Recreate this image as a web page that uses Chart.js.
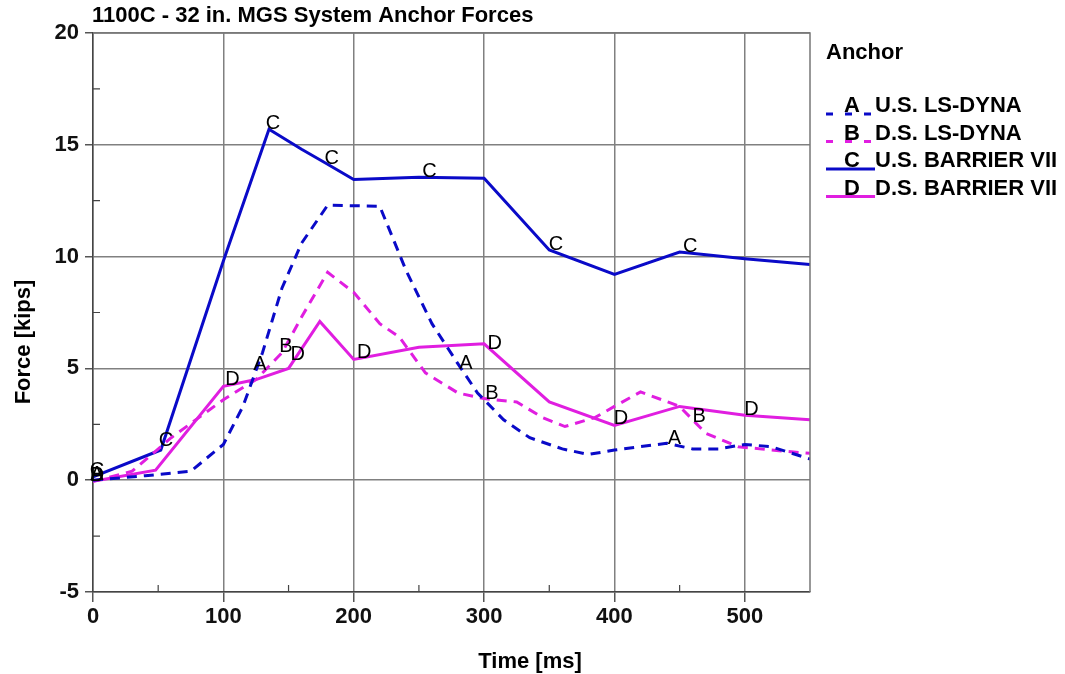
<!DOCTYPE html>
<html>
<head>
<meta charset="utf-8">
<script src="https://cdn.jsdelivr.net/npm/chart.js@4.4.0/dist/chart.umd.min.js"></script>
<style>
  body { margin: 0; background: #fff; }
  #anchor_forces { display: block; }
</style>
</head>
<body>
<canvas id="anchor_forces" width="1065" height="674"></canvas>
<script>
// series names and letters
var seriesNames = ['U.S. LS-DYNA', 'D.S. LS-DYNA', 'U.S. BARRIER VII', 'D.S. BARRIER VII'];
var seriesLetters = ['A', 'B', 'C', 'D'];

// A - U.S. LS-DYNA
var aTime  = [0, 40, 75, 100, 115, 130, 145, 160, 180, 220, 240, 260, 280, 295, 315, 335, 360, 380, 400, 440, 460, 480, 500, 520, 550];
var aForce = [0, 0.2, 0.4, 1.6, 3.3, 5.7, 8.6, 10.6, 12.3, 12.25, 9.4, 7.0, 5.2, 3.9, 2.7, 1.9, 1.4, 1.15, 1.35, 1.65, 1.4, 1.4, 1.6, 1.5, 0.95];

// B - D.S. LS-DYNA
var bTime  = [0, 30, 60, 100, 125, 145, 160, 180, 200, 220, 235, 255, 280, 300, 325, 345, 362, 385, 400, 420, 450, 470, 495, 520, 550];
var bForce = [-0.05, 0.4, 1.9, 3.6, 4.5, 5.7, 7.3, 9.3, 8.4, 7.0, 6.4, 4.8, 3.9, 3.65, 3.5, 2.8, 2.4, 2.8, 3.3, 3.95, 3.3, 2.1, 1.5, 1.35, 1.2];

// C - U.S. BARRIER VII
var cTime  = [0, 52, 100, 135, 160, 178, 200, 250, 300, 350, 400, 450, 500, 550];
var cForce = [0.15, 1.35, 9.8, 15.7, 14.8, 14.2, 13.45, 13.55, 13.5, 10.3, 9.2, 10.2, 9.9, 9.65];

// D - D.S. BARRIER VII
var dTime  = [0, 48, 100, 125, 150, 174, 200, 250, 300, 350, 400, 450, 500, 550];
var dForce = [-0.05, 0.45, 4.2, 4.5, 5.0, 7.1, 5.4, 5.95, 6.1, 3.5, 2.45, 3.3, 2.9, 2.7];

// times where the letter symbols sit on each curve
var aLabelTimes = [0, 125, 283, 443];
var bLabelTimes = [0, 145, 303, 462];
var cLabelTimes = [0, 53, 135, 180, 255, 352, 455];
var dLabelTimes = [0, 104, 154, 205, 305, 402, 502];

var blue = '#0a0ac8';
var magenta = '#e01ee0';
var fontFamily = '"Liberation Sans", Arial, sans-serif';

function toPoints(times, forces) {
	var pts = [];
	for (var i in times) {
		pts.push({x: times[i], y: forces[i]});
	}
	return pts;
}

function forceAt(times, forces, t) {
	for (var i = 1; i < times.length; i++) {
		if (t <= times[i]) {
			var f = (t - times[i - 1]) / (times[i] - times[i - 1]);
			return forces[i - 1] + f * (forces[i] - forces[i - 1]);
		}
	}
	return forces[forces.length - 1];
}

var allTimes = [aTime, bTime, cTime, dTime];
var allForces = [aForce, bForce, cForce, dForce];
var allLabelTimes = [aLabelTimes, bLabelTimes, cLabelTimes, dLabelTimes];
var colors = [blue, magenta, blue, magenta];
var dashes = [[10, 7], [10, 7], [], []];

var datasets = [];
for (var s = 0; s < 4; s++) {
	datasets.push({
		label: seriesNames[s],
		data: toPoints(allTimes[s], allForces[s]),
		borderColor: colors[s],
		borderWidth: 3,
		borderDash: dashes[s],
		pointRadius: 0,
		fill: false,
		tension: 0
	});
}

var extras = {
	id: 'extras',
	afterDatasetsDraw: function(chart) {
		var ctx = chart.ctx;
		var xs = chart.scales.x;
		var ys = chart.scales.y;
		var area = chart.chartArea;
		ctx.save();

		// border on top and right
		ctx.strokeStyle = '#777';
		ctx.lineWidth = 1.5;
		ctx.beginPath();
		ctx.moveTo(area.left, area.top);
		ctx.lineTo(area.right, area.top);
		ctx.lineTo(area.right, area.bottom);
		ctx.stroke();

		// minor ticks pointing inside
		ctx.strokeStyle = '#444';
		ctx.lineWidth = 1.2;
		ctx.beginPath();
		for (var t = 50; t < 550; t += 100) {
			var px = xs.getPixelForValue(t);
			ctx.moveTo(px, area.bottom);
			ctx.lineTo(px, area.bottom - 7);
		}
		for (var v = -2.5; v < 20; v += 5) {
			var py = ys.getPixelForValue(v);
			ctx.moveTo(area.left, py);
			ctx.lineTo(area.left + 7, py);
		}
		ctx.stroke();

		// letters on the curves
		ctx.fillStyle = '#000';
		ctx.font = '20px ' + fontFamily;
		ctx.textAlign = 'center';
		ctx.textBaseline = 'middle';
		for (var s = 0; s < 4; s++) {
			var lt = allLabelTimes[s];
			for (var k in lt) {
				var x = xs.getPixelForValue(lt[k]);
				var y = ys.getPixelForValue(forceAt(allTimes[s], allForces[s], lt[k]));
				ctx.fillText(seriesLetters[s], x + 4, y - 6);
			}
		}

		// title
		ctx.font = 'bold 22px ' + fontFamily;
		ctx.textAlign = 'left';
		ctx.fillText('1100C - 32 in. MGS System Anchor Forces', 92, 16);

		// axis titles
		ctx.textAlign = 'center';
		ctx.fillText('Time [ms]', 530, 662);
		ctx.save();
		ctx.translate(24, 342);
		ctx.rotate(-Math.PI / 2);
		ctx.fillText('Force [kips]', 0, 0);
		ctx.restore();

		// legend
		ctx.textAlign = 'left';
		ctx.fillText('Anchor', 826, 53);
		for (var s = 0; s < 4; s++) {
			var rowY = 106 + s * 27.5;
			ctx.strokeStyle = colors[s];
			ctx.lineWidth = 3;
			ctx.setLineDash(dashes[s].length ? [7, 12] : []);
			ctx.beginPath();
			ctx.moveTo(826, rowY + 8);
			ctx.lineTo(875, rowY + 8);
			ctx.stroke();
			ctx.setLineDash([]);
			ctx.fillStyle = '#000';
			ctx.textAlign = 'center';
			ctx.fillText(seriesLetters[s], 852, rowY);
			ctx.textAlign = 'left';
			ctx.fillText(seriesNames[s], 875, rowY);
		}
		ctx.restore();
	}
};

var forceChart = new Chart(document.getElementById('anchor_forces'), {
	type: 'line',
	data: {datasets: datasets},
	options: {
		responsive: false,
		animation: false,
		layout: {padding: {top: 33, right: 255, left: 0, bottom: 0}},
		plugins: {
			legend: {display: false},
			title: {display: false},
			tooltip: {enabled: false}
		},
		scales: {
			x: {
				type: 'linear',
				min: 0,
				max: 550,
				afterFit: function(scale) { scale.height = 82; },
				ticks: {
					stepSize: 50,
					autoSkip: false,
					maxRotation: 0,
					padding: 2,
					color: '#111',
					font: {family: fontFamily, size: 22, weight: 'bold'},
					callback: function(v) { return v % 100 === 0 ? v : ''; }
				},
				grid: {
					color: function(c) { return c.tick && c.tick.value % 100 === 0 ? '#808080' : 'rgba(0,0,0,0)'; },
					tickColor: function(c) { return c.tick && c.tick.value % 100 === 0 ? '#555' : 'rgba(0,0,0,0)'; },
					lineWidth: 1.5,
					tickLength: 10
				},
				border: {color: '#444', width: 1.5}
			},
			y: {
				min: -5,
				max: 20,
				afterFit: function(scale) { scale.width = 93; },
				ticks: {
					stepSize: 2.5,
					autoSkip: false,
					padding: 6,
					color: '#111',
					font: {family: fontFamily, size: 22, weight: 'bold'},
					callback: function(v) { return v % 5 === 0 ? v : ''; }
				},
				grid: {
					color: function(c) { return c.tick && c.tick.value % 5 === 0 ? '#808080' : 'rgba(0,0,0,0)'; },
					tickColor: function(c) { return c.tick && c.tick.value % 5 === 0 ? '#555' : 'rgba(0,0,0,0)'; },
					lineWidth: 1.5,
					tickLength: 8
				},
				border: {color: '#444', width: 1.5}
			}
		}
	},
	plugins: [extras]
});
</script>
</body>
</html>
